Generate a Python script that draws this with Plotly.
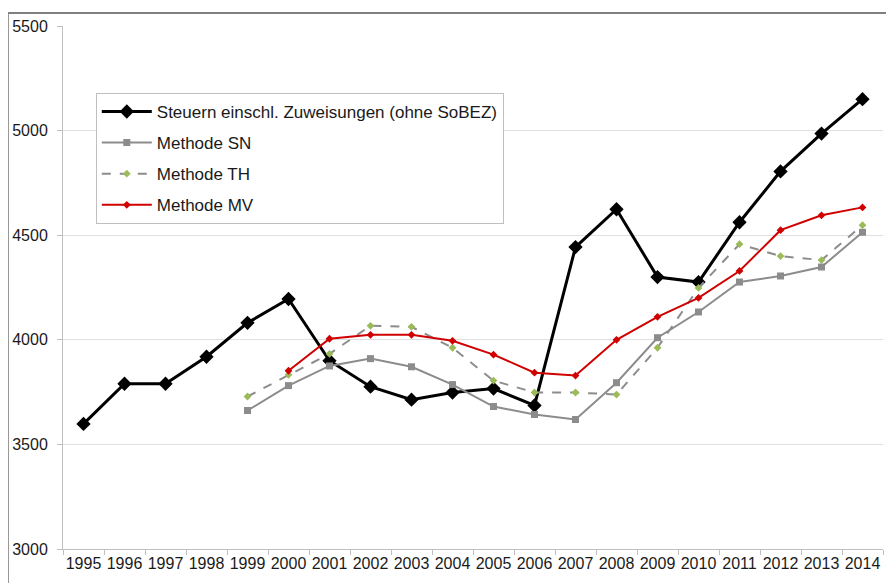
import plotly.graph_objects as go

years = [str(y) for y in range(1995, 2015)]

steuern = [3598, 3790, 3790, 3919, 4081, 4195, 3900, 3776, 3714, 3748,
           3767, 3686, 4443, 4624, 4300, 4276, 4562, 4805, 4986, 5150]
sn = [None, None, None, None, 3662, 3781, 3875, 3910, 3871, 3786,
      3681, 3643, 3619, 3795, 4010, 4133, 4276, 4305, 4348, 4514]
th = [None, None, None, None, 3729, 3833, 3933, 4067, 4062, 3962,
      3805, 3748, 3748, 3738, 3962, 4248, 4457, 4400, 4381, 4548]
mv = [None, None, None, None, None, 3852, 4005, 4024, 4024, 3995,
      3929, 3843, 3829, 4000, 4110, 4200, 4329, 4524, 4595, 4633]

names = ["Steuern einschl. Zuweisungen (ohne SoBEZ)", "Methode SN", "Methode TH", "Methode MV"]

fig = go.Figure()
fig.add_trace(go.Scatter(x=years, y=steuern, name=names[0], mode="lines+markers",
                         line=dict(color="black", width=3),
                         marker=dict(symbol="diamond", size=11, color="black"),
                         legendgroup="a"))
fig.add_trace(go.Scatter(x=years, y=sn, name=names[1], mode="lines+markers",
                         line=dict(color="#8c8c8c", width=2),
                         marker=dict(symbol="square", size=7, color="#8c8c8c"),
                         legendgroup="b"))
fig.add_trace(go.Scatter(x=years, y=th, name=names[2], mode="lines+markers",
                         line=dict(color="#8c8c8c", width=2, dash="dash"),
                         marker=dict(symbol="diamond", size=6, color="#9bbb59"),
                         legendgroup="c"))
fig.add_trace(go.Scatter(x=years, y=mv, name=names[3], mode="lines+markers",
                         line=dict(color="#d00000", width=2),
                         marker=dict(symbol="diamond", size=6, color="#d00000"),
                         legendgroup="d"))

fig.update_layout(
    width=886, height=575,
    margin=dict(l=55, r=11, t=18, b=34),
    paper_bgcolor="white", plot_bgcolor="white",
    font=dict(family="Liberation Sans, Arial", size=16, color="#1a1a1a"),
    showlegend=True,
    legend=dict(x=0.04, y=0.872, xanchor="left", yanchor="top",
                bgcolor="white", bordercolor="#bfbfbf", borderwidth=1,
                font=dict(size=17), tracegroupgap=6, itemwidth=50),
    xaxis=dict(type="category", range=[-0.5, 19.5], showgrid=False,
               showline=True, linecolor="#bfbfbf", linewidth=1,
               ticks="outside", ticklen=5, tickcolor="#bfbfbf", tickson="boundaries",
               tickfont=dict(size=16), tickangle=0, automargin=False),
    yaxis=dict(range=[3000, 5500], dtick=500, showgrid=True, gridcolor="#e0e0e0",
               showline=True, linecolor="#bfbfbf", linewidth=1,
               ticks="outside", ticklen=5, tickcolor="#bfbfbf",
               tickfont=dict(size=16), zeroline=False, automargin=False,
               ticklabelstandoff=6),
    shapes=[
        dict(type="line", xref="paper", yref="paper", x0=-0.067, x1=1.02, y0=1.0249, y1=1.0249,
             line=dict(color="#808080", width=2)),
        dict(type="line", xref="paper", yref="paper", x0=-0.067, x1=-0.067, y0=1.0249, y1=-0.1,
             line=dict(color="#808080", width=1.5)),
    ],
)

fig.write_html("out.html")
